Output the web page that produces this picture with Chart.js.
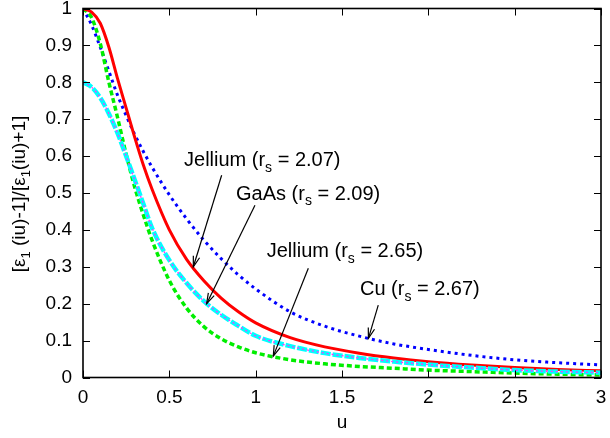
<!DOCTYPE html>
<html><head><meta charset="utf-8">
<script src="https://cdn.jsdelivr.net/npm/chart.js@4.4.1/dist/chart.umd.min.js"></script>
<style>html,body{margin:0;padding:0;background:#fff}</style>
</head><body>
<canvas id="c" width="610" height="438"></canvas>
<script>
// ---- data ----
const u = [0,0.05,0.1,0.15,0.2,0.25,0.3,0.35,0.4,0.5,0.6,0.7,0.8,0.9,1.0,1.2,1.4,1.6,1.8,2.0,2.25,2.5,2.75,3.0];
const jellium207 = [1,0.99,0.96,0.895,0.81,0.73,0.65,0.575,0.51,0.40,0.32,0.262,0.215,0.178,0.148,0.108,0.083,0.066,0.053,0.043,0.034,0.027,0.022,0.018];
const gaas209 = [0.80,0.787,0.758,0.715,0.662,0.60,0.535,0.47,0.405,0.318,0.256,0.207,0.170,0.140,0.113,0.085,0.066,0.053,0.043,0.035,0.027,0.020,0.016,0.013];
const gaas209Dotted = [0.80,0.787,0.758,0.715,0.662,0.60,0.535,0.47,0.405,0.318,0.256,0.207,0.170,0.140,0.113,0.085,0.066,0.053,0.043,0.035,0.027,0.020,0.016,0.013];
const jellium265 = [1,0.975,0.905,0.80,0.705,0.605,0.515,0.44,0.372,0.263,0.188,0.138,0.105,0.083,0.067,0.048,0.037,0.030,0.025,0.020,0.016,0.012,0.009,0.007];
const cu267 = [1,0.955,0.895,0.83,0.765,0.71,0.658,0.612,0.57,0.495,0.43,0.372,0.322,0.278,0.24,0.178,0.139,0.112,0.091,0.076,0.060,0.048,0.040,0.034];
const xTickValues = [0,0.5,1,1.5,2,2.5,3];
const xTickLabels = ['0','0.5','1','1.5','2','2.5','3'];
const yTickValues = [0,0.1,0.2,0.3,0.4,0.5,0.6,0.7,0.8,0.9,1];
const yTickLabels = ['0','0.1','0.2','0.3','0.4','0.5','0.6','0.7','0.8','0.9','1'];
const labels = [
  {name:'Jellium (r', sub:'s', rest:' = 2.07)', at:[0.585,0.573], from:[0.803,0.548], to:[0.639,0.300]},
  {name:'GaAs (r', sub:'s', rest:' = 2.09)', at:[0.886,0.482], from:[0.996,0.467], to:[0.716,0.200]},
  {name:'Jellium (r', sub:'s', rest:' = 2.65)', at:[1.064,0.326], from:[1.305,0.296], to:[1.102,0.058]},
  {name:'Cu (r', sub:'s', rest:' = 2.67)', at:[1.604,0.223], from:[1.710,0.196], to:[1.653,0.106]}
];

const FONT = '"Liberation Sans", Arial, Helvetica, sans-serif';
const pts = arr => arr.map((v,i)=>({x:u[i], y:v}));

function drawRich(ctx, parts, x, y, size){
  let cx = x;
  for(const p of parts){
    const s = p.sub ? Math.round(size*0.7) : size;
    ctx.font = s + 'px ' + FONT;
    ctx.fillText(p.t, cx, y + (p.sub ? size*0.28 : 0));
    cx += ctx.measureText(p.t).width;
  }
  return cx - x;
}
function richWidth(ctx, parts, size){
  let w = 0;
  for(const p of parts){
    const s = p.sub ? Math.round(size*0.7) : size;
    ctx.font = s + 'px ' + FONT;
    w += ctx.measureText(p.t).width;
  }
  return w;
}

const decor = {
  id:'decor',
  afterDraw(chart){
    const ctx = chart.ctx, ca = chart.chartArea, xs = chart.scales.x, ys = chart.scales.y;
    ctx.save();
    ctx.strokeStyle = '#000'; ctx.fillStyle = '#000';
    ctx.lineWidth = 1;
    const tl = 7;
    ctx.beginPath();
    xTickValues.forEach(v=>{
      const px = Math.round(xs.getPixelForValue(v))+0.5;
      ctx.moveTo(px, ca.bottom); ctx.lineTo(px, ca.bottom - tl);
      ctx.moveTo(px, ca.top); ctx.lineTo(px, ca.top + tl);
    });
    yTickValues.forEach(v=>{
      const py = Math.round(ys.getPixelForValue(v))+0.5;
      ctx.moveTo(ca.left, py); ctx.lineTo(ca.left + tl, py);
      ctx.moveTo(ca.right, py); ctx.lineTo(ca.right - tl, py);
    });
    ctx.stroke();
    ctx.lineWidth = 1.6;
    ctx.strokeRect(ca.left, ca.top, ca.right-ca.left, ca.bottom-ca.top);
    ctx.font = '19px ' + FONT;
    ctx.textAlign = 'center'; ctx.textBaseline = 'alphabetic';
    ctx.fillText('u', (ca.left+ca.right)/2, 428);
    const yparts = [{t:'[ε'},{t:'1',sub:true},{t:' (iu)-1]/[ε'},{t:'1',sub:true},{t:'(iu)+1]'}];
    ctx.textAlign = 'left';
    ctx.save();
    ctx.translate(25, 194);
    ctx.rotate(-Math.PI/2);
    const w = richWidth(ctx, yparts, 19);
    drawRich(ctx, yparts, -w/2, 0, 19);
    ctx.restore();
    labels.forEach(l=>{
      const tx = xs.getPixelForValue(l.at[0]), ty = ys.getPixelForValue(l.at[1]);
      drawRich(ctx, [{t:l.name},{t:l.sub,sub:true},{t:l.rest}], tx, ty, 20);
      const x1 = xs.getPixelForValue(l.from[0]), y1 = ys.getPixelForValue(l.from[1]);
      const x2 = xs.getPixelForValue(l.to[0]), y2 = ys.getPixelForValue(l.to[1]);
      ctx.lineWidth = 1.2;
      ctx.beginPath(); ctx.moveTo(x1,y1); ctx.lineTo(x2,y2); ctx.stroke();
      const ang = Math.atan2(y2-y1, x2-x1), hl = 11, ha = 0.3;
      ctx.beginPath();
      ctx.moveTo(x2 - hl*Math.cos(ang-ha), y2 - hl*Math.sin(ang-ha));
      ctx.lineTo(x2, y2);
      ctx.lineTo(x2 - hl*Math.cos(ang+ha), y2 - hl*Math.sin(ang+ha));
      ctx.stroke();
    });
    ctx.restore();
  }
};

const common = {pointRadius:0, fill:false, cubicInterpolationMode:'monotone', borderCapStyle:'butt'};
new Chart(document.getElementById('c'), {
  type:'line',
  data:{datasets:[
    Object.assign({label:'GaAs dotted', data:pts(gaas209Dotted), borderColor:'#ff33ff', borderWidth:1.3, borderDash:[2,3]}, common),
    Object.assign({label:'GaAs (rs = 2.09)', data:pts(gaas209), borderColor:'#00ffff', borderWidth:4.5, borderDash:[10,2]}, common),
    Object.assign({label:'Jellium (rs = 2.07)', data:pts(jellium207), borderColor:'#ff0000', borderWidth:3}, common),
    Object.assign({label:'Jellium (rs = 2.65)', data:pts(jellium265), borderColor:'#00ee00', borderWidth:3.5, borderDash:[5,3]}, common),
    Object.assign({label:'Cu (rs = 2.67)', data:pts(cu267), borderColor:'#0000ff', borderWidth:3, borderDash:[3,4]}, common)
  ]},
  options:{
    responsive:false, animation:false, devicePixelRatio:1,
    layout:{padding:{top:8.5, right:9, left:0, bottom:0}},
    plugins:{legend:{display:false}, tooltip:{enabled:false}},
    scales:{
      x:{type:'linear', min:0, max:3,
        afterBuildTicks:s=>{ s.ticks = xTickValues.map(v=>({value:v})); },
        afterFit:s=>{ s.height = 60.5; s.paddingLeft = 0; s.paddingRight = 0; },
        ticks:{callback:(v,i)=>xTickLabels[i], font:{family:FONT, size:19}, color:'#000', padding:9, maxRotation:0, autoSkip:false},
        grid:{display:false, drawTicks:false}, border:{display:false}},
      y:{type:'linear', min:0, max:1,
        afterBuildTicks:s=>{ s.ticks = yTickValues.map(v=>({value:v})); },
        afterFit:s=>{ s.width = 83; s.paddingTop = 0; s.paddingBottom = 0; },
        ticks:{callback:(v,i)=>yTickLabels[i], font:{family:FONT, size:19}, color:'#000', padding:11, autoSkip:false},
        grid:{display:false, drawTicks:false}, border:{display:false}}
    }
  },
  plugins:[decor]
});
</script>
</body></html>
